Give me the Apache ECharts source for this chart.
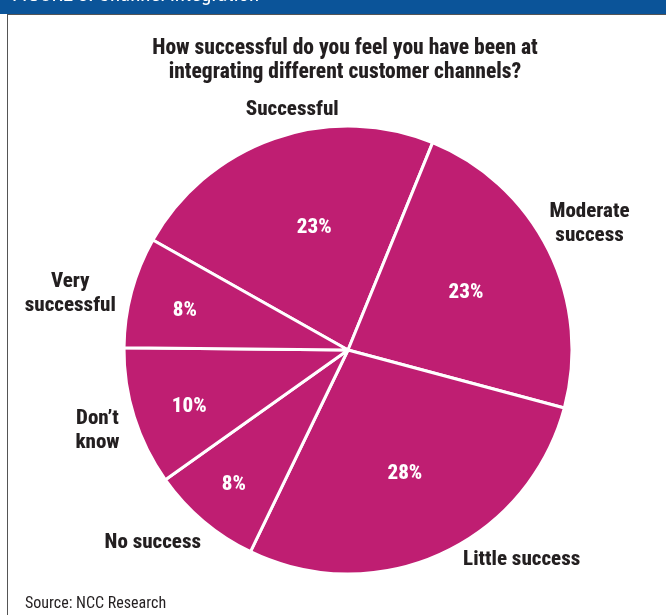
<!DOCTYPE html>
<html>
<head>
<meta charset="utf-8">
<script src="https://cdn.jsdelivr.net/npm/echarts@6/dist/echarts.min.js"></script>
<style>
  html, body { margin: 0; padding: 0; background: #fff; }
  #chart { width: 666px; height: 615px; }
</style>
</head>
<body>
<div id="chart"></div>
<script>
// Survey answers, clockwise from the upper-left slice
const categories = ['Successful', 'Moderate success', 'Little success', 'No success', "Don't know", 'Very successful'];
const displayNames = ['Successful', 'Moderate\nsuccess', 'Little success', 'No success', 'Don\u2019t\nknow', 'Very\nsuccessful'];
const shares = [23, 23, 28, 8, 10, 8];

const FONT = '"Roboto Condensed", "Liberation Sans", sans-serif';
const INK = '#231F20';
const MAGENTA = '#BF1E72';
const CENTER = [348, 350];
const RADIUS = 224;
const START = 150.6;

// small nudges so the labels sit where the survey graphic places them
const innerNudge = [[4, -14], [15, -6], [9, 19], [-40, 47], [-49, 22], [-52, -9]];
const outerNudge = [[34, 18], [-3, -5], [60, -38], [-19, -16], [10, -1], [-14, 14]];

const sliceData = categories.map((c, i) => ({ name: c, value: shares[i] }));

const chart = echarts.init(document.getElementById('chart'), null, { renderer: 'canvas' });

chart.setOption({
  animation: false,
  backgroundColor: '#ffffff',
  graphic: [
    { type: 'rect', shape: { x: 0, y: 0, width: 666, height: 14 }, style: { fill: '#0B5499' }, z: 10 },
    { type: 'rect', shape: { x: 8, y: 14, width: 658, height: 1 }, style: { fill: '#555555' }, z: 10 },
    { type: 'rect', shape: { x: 7, y: 14, width: 1, height: 601 }, style: { fill: '#555555' }, z: 10 },
    {
      type: 'text', left: 12, top: -15, z: 11,
      style: { text: 'FIGURE 3: Channel integration', fill: '#ffffff', font: '21px ' + FONT }
    },
    {
      type: 'text', left: 25, top: 596, z: 11,
      style: { text: 'Source: NCC Research', fill: INK, font: '16px ' + FONT }
    }
  ],
  title: {
    text: 'How successful do you feel you have been at\nintegrating different customer channels?',
    left: 340,
    top: 32,
    textAlign: 'center',
    textStyle: {
      fontFamily: FONT,
      fontWeight: 800,
      fontSize: 21.5,
      lineHeight: 24,
      color: INK
    }
  },
  series: [
    {
      type: 'pie',
      center: CENTER,
      radius: [0, RADIUS],
      startAngle: START,
      clockwise: true,
      silent: true,
      data: sliceData,
      itemStyle: { color: MAGENTA, borderColor: '#ffffff', borderWidth: 3 },
      label: {
        show: true,
        position: 'inside',
        formatter: '{c}%',
        color: '#ffffff',
        fontFamily: FONT,
        fontWeight: 800,
        fontSize: 21
      },
      labelLine: { show: false },
      labelLayout: p => ({ dx: innerNudge[p.dataIndex][0], dy: innerNudge[p.dataIndex][1] })
    },
    {
      // transparent ring that carries the category names around the pie
      type: 'pie',
      center: CENTER,
      radius: [255, 285],
      startAngle: START,
      clockwise: true,
      silent: true,
      data: sliceData,
      itemStyle: { color: 'rgba(0,0,0,0)', borderWidth: 0 },
      label: {
        show: true,
        position: 'inside',
        formatter: p => displayNames[p.dataIndex],
        color: INK,
        fontFamily: FONT,
        fontWeight: 800,
        fontSize: 21,
        lineHeight: 24,
        align: 'center'
      },
      labelLine: { show: false },
      labelLayout: p => ({ dx: outerNudge[p.dataIndex][0], dy: outerNudge[p.dataIndex][1] })
    }
  ]
});
</script>
</body>
</html>
